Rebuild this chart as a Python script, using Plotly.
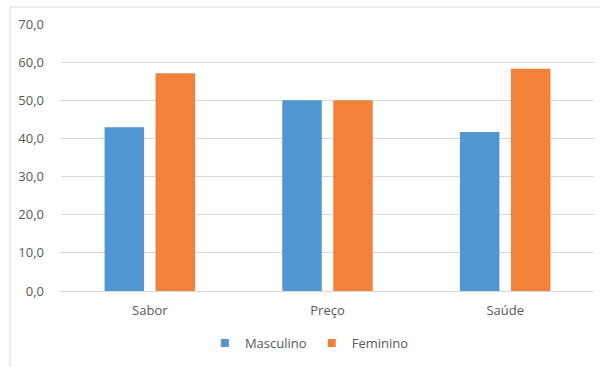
import plotly.graph_objects as go

categories = ["Sabor", "Preço", "Saúde"]
masculino = [42.9, 50.0, 41.7]
feminino = [57.1, 50.0, 58.3]
y_ticks = [0, 10, 20, 30, 40, 50, 60, 70]
series_names = ["Masculino", "Feminino"]
colors = ["#5097D2", "#F2823A"]

FONT = "Open Sans"
GRAY = "#595959"

fig = go.Figure()
for name, vals, col in zip(series_names, [masculino, feminino], colors):
    fig.add_trace(go.Bar(name=name, x=categories, y=vals, showlegend=False,
                         marker=dict(color=col, line=dict(width=0))))
for name, col in zip(series_names, colors):
    fig.add_trace(go.Scatter(name=name, x=[None], y=[None], mode="markers",
                             marker=dict(symbol="square", size=8, color=col)))

fig.update_layout(
    width=600, height=367,
    margin=dict(l=61, r=6, t=24, b=76),
    paper_bgcolor="white", plot_bgcolor="white",
    separators=",.",
    barmode="group", bargap=0.426, bargroupgap=0.225,
    font=dict(family=FONT, size=13, color=GRAY),
    showlegend=True,
    legend=dict(orientation="h", x=0.466, xanchor="center", y=-0.195, yanchor="middle",
                font=dict(family=FONT, size=13, color=GRAY), itemwidth=30,
                traceorder="normal"),
    xaxis=dict(showgrid=False, showline=True, linecolor="#D9D9D9", linewidth=1,
               ticks="", tickfont=dict(size=13, color=GRAY), ticklabelstandoff=7),
    yaxis=dict(range=[0, 70], tickvals=y_ticks, tickformat=".1f",
               showgrid=True, gridcolor="#D9D9D9", gridwidth=1,
               zeroline=False, showline=False, ticks="",
               tickfont=dict(size=13, color=GRAY), ticklabelstandoff=16),
    shapes=[
        dict(type="line", xref="paper", yref="paper", x0=-0.0957, x1=1.02, y0=1.0637, y1=1.0637,
             line=dict(color="#D9D9D9", width=1)),
        dict(type="line", xref="paper", yref="paper", x0=-0.0957, x1=-0.0957, y0=1.0637, y1=-0.3,
             line=dict(color="#D9D9D9", width=1)),
    ],
)

fig.write_html("out.html")
